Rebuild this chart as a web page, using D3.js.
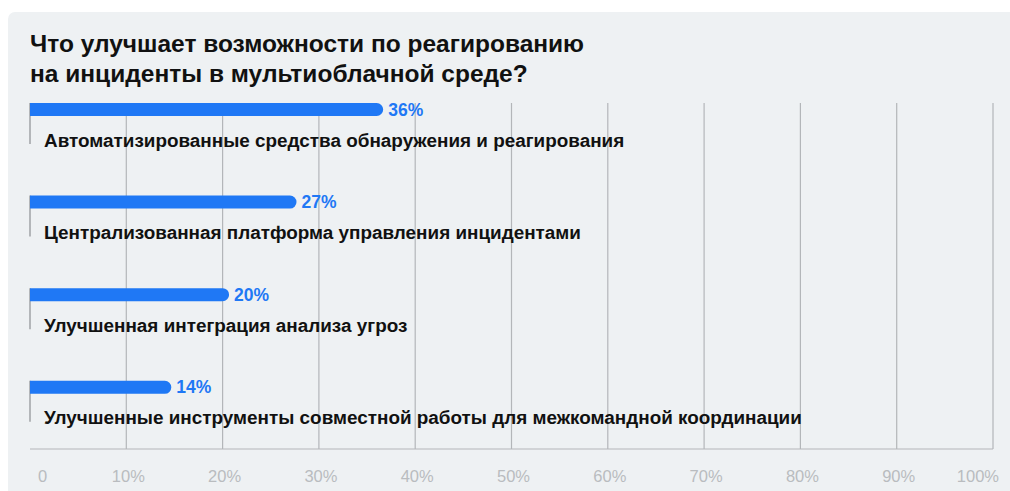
<!DOCTYPE html>
<html><head><meta charset="utf-8">
<script src="https://cdn.jsdelivr.net/npm/d3@7"></script>
<style>
html,body{margin:0;padding:0;background:#fff;}
svg{display:block;font-family:"Liberation Sans",Arial,Helvetica,sans-serif;}
</style></head>
<body>
<svg id="c" width="1010" height="491"></svg>
<script>
const titleLines = ["Что улучшает возможности по реагированию", "на инциденты в мультиоблачной среде?"];
const categories = [
  "Автоматизированные средства обнаружения и реагирования",
  "Централизованная платформа управления инцидентами",
  "Улучшенная интеграция анализа угроз",
  "Улучшенные инструменты совместной работы для межкомандной координации"
];
const values = [36, 27, 20, 14];
const tickValues = [0, 10, 20, 30, 40, 50, 60, 70, 80, 90, 100];
const tickLabels = ["0", "10%", "20%", "30%", "40%", "50%", "60%", "70%", "80%", "90%", "100%"];

const svg = d3.select("#c");
svg.append("rect").attr("x", 8).attr("y", 12).attr("width", 1010).attr("height", 500)
  .attr("rx", 7).attr("fill", "#eef1f3");

const title = svg.append("text").attr("x", 30).attr("y", 52)
  .attr("font-size", 24.5).attr("font-weight", "bold").attr("fill", "#111");
titleLines.forEach((t, i) => title.append("tspan").attr("x", 30).attr("dy", i ? 30 : 0).text(t));

const x = d3.scaleLinear().domain([0, 100]).range([30, 993]);
const y = d3.scaleBand().domain(categories).range([103, 473.4]).paddingInner(0).paddingOuter(0);
const baseY = 449, gridTop = 103;
const barH = 13;
const grid = "#b3b6b9";

// grid lines
svg.append("g").selectAll("line").data(tickValues.filter(d => d > 0)).join("line")
  .attr("x1", d => x(d)).attr("x2", d => x(d)).attr("y1", gridTop).attr("y2", baseY)
  .attr("stroke", grid).attr("stroke-width", 1.2);
// baseline
svg.append("line").attr("x1", x(0)).attr("x2", x(100)).attr("y1", baseY).attr("y2", baseY)
  .attr("stroke", grid).attr("stroke-width", 1.2);

// tick labels
svg.append("g").selectAll("text").data(tickValues).join("text")
  .attr("x", (d, i) => i === 0 ? x(d) + 8 : (i === tickValues.length - 1 ? x(d) + 6 : x(d) + 2))
  .attr("y", 482)
  .attr("text-anchor", (d, i) => i === 0 ? "start" : (i === tickValues.length - 1 ? "end" : "middle"))
  .attr("font-size", 16.5).attr("fill", "#b9bcbf")
  .text((d, i) => tickLabels[i]);

const rows = svg.append("g").selectAll("g").data(categories).join("g");
// zero segments
rows.append("line").attr("x1", x(0)).attr("x2", x(0))
  .attr("y1", d => y(d)).attr("y2", d => y(d) + 41)
  .attr("stroke", grid).attr("stroke-width", 2);
// bars
rows.append("path").attr("fill", "#1f78f5")
  .attr("d", (d, i) => {
    const x0 = x(0), x1 = x(values[i]), t = y(d), r = barH / 2;
    return `M${x0},${t}H${x1}A${r},${r} 0 0 1 ${x1},${t + barH}H${x0}Z`;
  });
// value labels
rows.append("text").attr("x", (d, i) => x(values[i]) + barH / 2 + 5)
  .attr("y", d => y(d) + barH / 2 + 6)
  .attr("font-size", 17.5).attr("font-weight", "bold").attr("fill", "#1f78f5")
  .text((d, i) => values[i] + "%");
// category labels
rows.append("text").attr("x", 44).attr("y", d => y(d) + 43.5)
  .attr("font-size", 18.9).attr("font-weight", "bold").attr("fill", "#111")
  .text(d => d);
</script>
</body></html>
